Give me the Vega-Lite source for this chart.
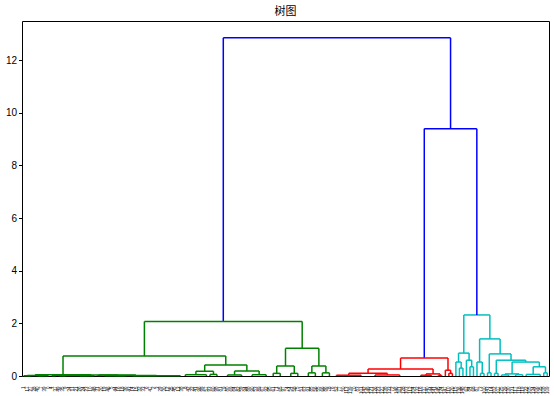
{
  "$schema": "https://vega.github.io/schema/vega-lite/v6.json",
  "autosize": {"type": "none"},
  "padding": {"left": 22, "top": 21, "right": 5, "bottom": 20},
  "width": 527,
  "height": 355,
  "title": {"text": "树图", "font": "Noto Sans CJK SC", "fontSize": 11, "fontWeight": "normal", "color": "#000", "anchor": "middle", "offset": 4},
  "config": {
    "view": {"stroke": "#000", "strokeWidth": 1},
    "axis": {"domain": false, "grid": false, "title": null},
    "axisX": {"labelAngle": -90, "labelFontSize": 4.5, "labelFont": "Liberation Sans", "labelColor": "#000", "labelOverlap": false, "labelBound": false, "labelFlush": false, "ticks": false, "labelPadding": 10, "labelAlign": "right", "labelBaseline": "middle"},
    "axisY": {"labelFontSize": 10, "labelFont": "Liberation Sans", "labelColor": "#000", "tickColor": "#000", "tickSize": 3.5, "labelPadding": 2}
  },
  "data": {"values": [
    {"c": "b", "xl": 572.94, "xr": 1219.8, "yl": 2.07, "yr": 9.4, "h": 12.85},
    {"c": "b", "xl": 1145, "xr": 1294.6, "yl": 0.68, "yr": 2.32, "h": 9.4},
    {"c": "g", "xl": 348.375, "xr": 797.5, "yl": 0.76, "yr": 1.05, "h": 2.07},
    {"c": "g", "xl": 116.75, "xr": 580, "yl": 0.05, "yr": 0.42, "h": 0.76},
    {"c": "g", "xl": 37.5, "xr": 196, "yl": 0.02, "yr": 0.04, "h": 0.05},
    {"c": "g", "xl": 15, "xr": 60, "yl": 0.01, "yr": 0.01, "h": 0.02},
    {"c": "g", "xl": 5, "xr": 25, "yl": 0, "yr": 0, "h": 0.01},
    {"c": "g", "xl": 45, "xr": 75, "yl": 0, "yr": 0, "h": 0.01},
    {"c": "g", "xl": 120, "xr": 272, "yl": 0.03, "yr": 0.035, "h": 0.04},
    {"c": "g", "xl": 90, "xr": 150, "yl": 0.01, "yr": 0.02, "h": 0.03},
    {"c": "g", "xl": 85, "xr": 95, "yl": 0, "yr": 0, "h": 0.01},
    {"c": "g", "xl": 115, "xr": 185, "yl": 0.01, "yr": 0.01, "h": 0.02},
    {"c": "g", "xl": 105, "xr": 125, "yl": 0, "yr": 0, "h": 0.01},
    {"c": "g", "xl": 165, "xr": 205, "yl": 0, "yr": 0, "h": 0.01},
    {"c": "g", "xl": 220, "xr": 324, "yl": 0.02, "yr": 0.02, "h": 0.035},
    {"c": "g", "xl": 215, "xr": 225, "yl": 0, "yr": 0, "h": 0.02},
    {"c": "g", "xl": 265, "xr": 383, "yl": 0.01, "yr": 0.01, "h": 0.02},
    {"c": "g", "xl": 235, "xr": 295, "yl": 0, "yr": 0, "h": 0.01},
    {"c": "g", "xl": 315, "xr": 451, "yl": 0, "yr": 0, "h": 0.01},
    {"c": "g", "xl": 520, "xr": 640, "yl": 0.18, "yr": 0.19, "h": 0.42},
    {"c": "g", "xl": 495, "xr": 545, "yl": 0.05, "yr": 0.06, "h": 0.18},
    {"c": "g", "xl": 465, "xr": 525, "yl": 0, "yr": 0, "h": 0.05},
    {"c": "g", "xl": 535, "xr": 555, "yl": 0, "yr": 0, "h": 0.06},
    {"c": "g", "xl": 605, "xr": 675, "yl": 0.04, "yr": 0.05, "h": 0.19},
    {"c": "g", "xl": 585, "xr": 625, "yl": 0, "yr": 0, "h": 0.04},
    {"c": "g", "xl": 655, "xr": 695, "yl": 0, "yr": 0, "h": 0.05},
    {"c": "g", "xl": 750, "xr": 845, "yl": 0.38, "yr": 0.38, "h": 1.05},
    {"c": "g", "xl": 725, "xr": 775, "yl": 0.1, "yr": 0.1, "h": 0.38},
    {"c": "g", "xl": 715, "xr": 735, "yl": 0, "yr": 0, "h": 0.1},
    {"c": "g", "xl": 765, "xr": 785, "yl": 0, "yr": 0, "h": 0.1},
    {"c": "g", "xl": 825, "xr": 865, "yl": 0.12, "yr": 0.12, "h": 0.38},
    {"c": "g", "xl": 815, "xr": 835, "yl": 0, "yr": 0, "h": 0.12},
    {"c": "g", "xl": 855, "xr": 875, "yl": 0, "yr": 0, "h": 0.12},
    {"c": "r", "xl": 1077.5, "xr": 1212.5, "yl": 0.27, "yr": 0.22, "h": 0.68},
    {"c": "r", "xl": 985, "xr": 1170, "yl": 0.1, "yr": 0.08, "h": 0.27},
    {"c": "r", "xl": 930, "xr": 1040, "yl": 0.03, "yr": 0.04, "h": 0.1},
    {"c": "r", "xl": 895, "xr": 965, "yl": 0, "yr": 0, "h": 0.03},
    {"c": "r", "xl": 1005, "xr": 1075, "yl": 0, "yr": 0, "h": 0.04},
    {"c": "r", "xl": 1150, "xr": 1190, "yl": 0.03, "yr": 0.02, "h": 0.08},
    {"c": "r", "xl": 1135, "xr": 1165, "yl": 0, "yr": 0, "h": 0.03},
    {"c": "r", "xl": 1185, "xr": 1195, "yl": 0, "yr": 0, "h": 0.02},
    {"c": "r", "xl": 1205, "xr": 1220, "yl": 0, "yr": 0.1, "h": 0.22},
    {"c": "r", "xl": 1215, "xr": 1225, "yl": 0, "yr": 0, "h": 0.1},
    {"c": "c", "xl": 1257.5, "xr": 1331.7, "yl": 0.87, "yr": 1.41, "h": 2.32},
    {"c": "c", "xl": 1242.5, "xr": 1272.5, "yl": 0.53, "yr": 0.6, "h": 0.87},
    {"c": "c", "xl": 1235, "xr": 1250, "yl": 0, "yr": 0.3, "h": 0.53},
    {"c": "c", "xl": 1245, "xr": 1255, "yl": 0, "yr": 0, "h": 0.3},
    {"c": "c", "xl": 1265, "xr": 1280, "yl": 0, "yr": 0.35, "h": 0.6},
    {"c": "c", "xl": 1275, "xr": 1285, "yl": 0, "yr": 0, "h": 0.35},
    {"c": "c", "xl": 1302.5, "xr": 1360.9, "yl": 0.53, "yr": 0.84, "h": 1.41},
    {"c": "c", "xl": 1295, "xr": 1310, "yl": 0, "yr": 0.1, "h": 0.53},
    {"c": "c", "xl": 1305, "xr": 1315, "yl": 0, "yr": 0, "h": 0.1},
    {"c": "c", "xl": 1330, "xr": 1391.9, "yl": 0.12, "yr": 0.6, "h": 0.84},
    {"c": "c", "xl": 1325, "xr": 1335, "yl": 0, "yr": 0, "h": 0.12},
    {"c": "c", "xl": 1350, "xr": 1433.75, "yl": 0.1, "yr": 0.53, "h": 0.6},
    {"c": "c", "xl": 1345, "xr": 1355, "yl": 0, "yr": 0, "h": 0.1},
    {"c": "c", "xl": 1395, "xr": 1472.5, "yl": 0.08, "yr": 0.35, "h": 0.53},
    {"c": "c", "xl": 1375, "xr": 1415, "yl": 0.04, "yr": 0.05, "h": 0.08},
    {"c": "c", "xl": 1365, "xr": 1385, "yl": 0, "yr": 0, "h": 0.04},
    {"c": "c", "xl": 1405, "xr": 1425, "yl": 0, "yr": 0, "h": 0.05},
    {"c": "c", "xl": 1455, "xr": 1490, "yl": 0.06, "yr": 0.12, "h": 0.35},
    {"c": "c", "xl": 1435, "xr": 1475, "yl": 0, "yr": 0, "h": 0.06},
    {"c": "c", "xl": 1485, "xr": 1495, "yl": 0, "yr": 0, "h": 0.12}
  ]},
  "encoding": {
    "color": {"field": "c", "type": "nominal", "legend": null,
      "scale": {"domain": ["b", "g", "r", "c"], "range": ["#0000ff", "#008000", "#ff0000", "#00bfbf"]}}
  },
  "layer": [
    {
      "mark": {"type": "rule", "strokeWidth": 1.5},
      "encoding": {
        "x": {"field": "xl", "type": "quantitative", "scale": {"domain": [0, 1500], "nice": false, "zero": false},
          "axis": {"title": null, "labelOverlap": false, "values": [5,15,25,35,45,55,65,75,85,95,105,115,125,135,145,155,165,175,185,195,205,215,225,235,245,255,265,275,285,295,305,315,325,335,345,355,365,375,385,395,405,415,425,435,445,455,465,475,485,495,505,515,525,535,545,555,565,575,585,595,605,615,625,635,645,655,665,675,685,695,705,715,725,735,745,755,765,775,785,795,805,815,825,835,845,855,865,875,885,895,905,915,925,935,945,955,965,975,985,995,1005,1015,1025,1035,1045,1055,1065,1075,1085,1095,1105,1115,1125,1135,1145,1155,1165,1175,1185,1195,1205,1215,1225,1235,1245,1255,1265,1275,1285,1295,1305,1315,1325,1335,1345,1355,1365,1375,1385,1395,1405,1415,1425,1435,1445,1455,1465,1475,1485,1495],
            "labelExpr": "[1,17,27,28,40,7,39,0,4,37,49,35,9,34,11,21,26,24,23,10,48,31,20,19,46,5,44,16,18,36,43,14,15,32,33,6,47,2,3,29,30,12,25,45,13,38,8,42,22,41,96,99,57,93,60,98,81,79,80,69,64,82,59,94,88,90,53,89,67,92,95,61,71,65,97,74,54,58,75,51,63,91,85,56,55,66,86,78,76,52,77,50,113,139,70,83,101,142,149,121,126,123,127,138,133,72,146,111,128,103,112,104,132,116,137,140,144,141,145,124,147,110,120,115,136,148,62,84,68,87,73,100,143,114,102,107,125,129,130,131,117,118,119,122,105,134,106,135,108,109][floor(datum.value/10)] + ''"}},
        "y": {"field": "yl", "type": "quantitative", "scale": {"domain": [0, 13.49], "nice": false, "zero": false},
          "axis": {"title": null, "values": [0, 2, 4, 6, 8, 10, 12]}},
        "y2": {"field": "h"}
      }
    },
    {
      "mark": {"type": "rule", "strokeWidth": 1.5},
      "encoding": {
        "x": {"field": "xl", "type": "quantitative",
          "axis": {"title": null, "labelOverlap": false, "values": [5,15,25,35,45,55,65,75,85,95,105,115,125,135,145,155,165,175,185,195,205,215,225,235,245,255,265,275,285,295,305,315,325,335,345,355,365,375,385,395,405,415,425,435,445,455,465,475,485,495,505,515,525,535,545,555,565,575,585,595,605,615,625,635,645,655,665,675,685,695,705,715,725,735,745,755,765,775,785,795,805,815,825,835,845,855,865,875,885,895,905,915,925,935,945,955,965,975,985,995,1005,1015,1025,1035,1045,1055,1065,1075,1085,1095,1105,1115,1125,1135,1145,1155,1165,1175,1185,1195,1205,1215,1225,1235,1245,1255,1265,1275,1285,1295,1305,1315,1325,1335,1345,1355,1365,1375,1385,1395,1405,1415,1425,1435,1445,1455,1465,1475,1485,1495],
            "labelExpr": "[1,17,27,28,40,7,39,0,4,37,49,35,9,34,11,21,26,24,23,10,48,31,20,19,46,5,44,16,18,36,43,14,15,32,33,6,47,2,3,29,30,12,25,45,13,38,8,42,22,41,96,99,57,93,60,98,81,79,80,69,64,82,59,94,88,90,53,89,67,92,95,61,71,65,97,74,54,58,75,51,63,91,85,56,55,66,86,78,76,52,77,50,113,139,70,83,101,142,149,121,126,123,127,138,133,72,146,111,128,103,112,104,132,116,137,140,144,141,145,124,147,110,120,115,136,148,62,84,68,87,73,100,143,114,102,107,125,129,130,131,117,118,119,122,105,134,106,135,108,109][floor(datum.value/10)] + ''"}},
        "x2": {"field": "xr"},
        "y": {"field": "h", "type": "quantitative", "axis": {"title": null, "values": [0, 2, 4, 6, 8, 10, 12]}}
      }
    },
    {
      "mark": {"type": "rule", "strokeWidth": 1.5},
      "encoding": {
        "x": {"field": "xr", "type": "quantitative",
          "axis": {"title": null, "labelOverlap": false, "values": [5,15,25,35,45,55,65,75,85,95,105,115,125,135,145,155,165,175,185,195,205,215,225,235,245,255,265,275,285,295,305,315,325,335,345,355,365,375,385,395,405,415,425,435,445,455,465,475,485,495,505,515,525,535,545,555,565,575,585,595,605,615,625,635,645,655,665,675,685,695,705,715,725,735,745,755,765,775,785,795,805,815,825,835,845,855,865,875,885,895,905,915,925,935,945,955,965,975,985,995,1005,1015,1025,1035,1045,1055,1065,1075,1085,1095,1105,1115,1125,1135,1145,1155,1165,1175,1185,1195,1205,1215,1225,1235,1245,1255,1265,1275,1285,1295,1305,1315,1325,1335,1345,1355,1365,1375,1385,1395,1405,1415,1425,1435,1445,1455,1465,1475,1485,1495],
            "labelExpr": "[1,17,27,28,40,7,39,0,4,37,49,35,9,34,11,21,26,24,23,10,48,31,20,19,46,5,44,16,18,36,43,14,15,32,33,6,47,2,3,29,30,12,25,45,13,38,8,42,22,41,96,99,57,93,60,98,81,79,80,69,64,82,59,94,88,90,53,89,67,92,95,61,71,65,97,74,54,58,75,51,63,91,85,56,55,66,86,78,76,52,77,50,113,139,70,83,101,142,149,121,126,123,127,138,133,72,146,111,128,103,112,104,132,116,137,140,144,141,145,124,147,110,120,115,136,148,62,84,68,87,73,100,143,114,102,107,125,129,130,131,117,118,119,122,105,134,106,135,108,109][floor(datum.value/10)] + ''"}},
        "y": {"field": "yr", "type": "quantitative", "axis": {"title": null, "values": [0, 2, 4, 6, 8, 10, 12]}},
        "y2": {"field": "h"}
      }
    }
  ]
}
